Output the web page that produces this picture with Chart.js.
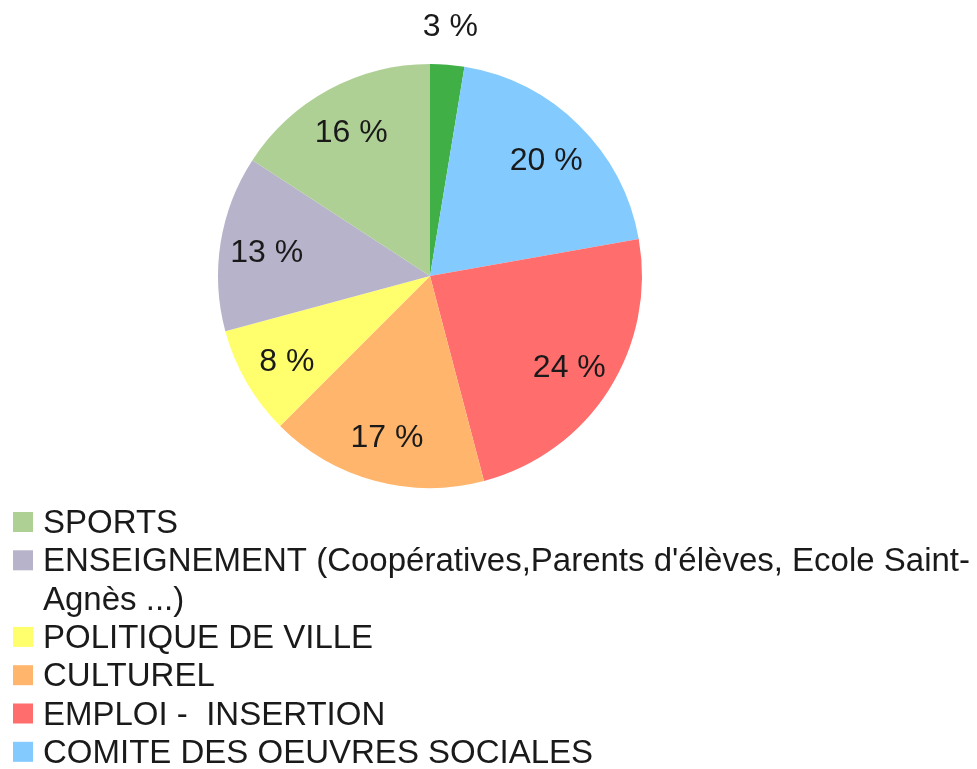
<!DOCTYPE html>
<html>
<head>
<meta charset="utf-8">
<script src="https://cdn.jsdelivr.net/npm/chart.js@4/dist/chart.umd.min.js"></script>
<style>
  html, body { margin: 0; padding: 0; background: #ffffff; overflow: hidden; }
  canvas { display: block; }
</style>
</head>
<body>
<canvas id="c" width="977" height="769"></canvas>
<script>
// Legend order (as listed in the reference legend)
const categories = [
  'SPORTS',
  'ENSEIGNEMENT (Coopératives,Parents d\'élèves, Ecole Saint-Agnès ...)',
  'POLITIQUE DE VILLE',
  'CULTUREL',
  'EMPLOI -  INSERTION',
  'COMITE DES OEUVRES SOCIALES',
  'AUTRES'
];
// Share of each category (percent)
const shares = [15.8, 13.4, 8.3, 16.6, 23.7, 19.6, 2.6];
const sliceColors = ['#afd095', '#b7b3ca', '#ffff6d', '#ffb66c', '#ff6d6d', '#83caff', '#3faf46'];

// Slices run counter-clockwise in legend order; Chart.js draws clockwise, so reverse.
const pieLabels = categories.slice().reverse();
const pieValues = shares.slice().reverse();
const pieColors = sliceColors.slice().reverse();

const LABEL_FONT = '32px "Liberation Sans", Arial, sans-serif';
const LEGEND_FONT = '33px "Liberation Sans", Arial, sans-serif';
const TEXT_COLOR = '#1a1a1a';

const valueLabels = {
  id: 'valueLabels',
  afterDatasetsDraw(chart) {
    const ctx = chart.ctx;
    const meta = chart.getDatasetMeta(0);
    const data = chart.data.datasets[0].data;
    const total = data.reduce((a, b) => a + b, 0);
    ctx.save();
    ctx.font = LABEL_FONT;
    ctx.fillStyle = TEXT_COLOR;
    ctx.textAlign = 'center';
    ctx.textBaseline = 'middle';
    meta.data.forEach((arc, i) => {
      const p = data[i] / total * 100;
      const mid = (arc.startAngle + arc.endAngle) / 2;
      const f = p < 5 ? 1.18 : 0.78;
      const r = arc.outerRadius * f;
      const x = arc.x + Math.cos(mid) * r;
      const y = arc.y + Math.sin(mid) * r;
      ctx.fillText(Math.round(p + 1e-9) + ' %', x, y + (p < 5 ? 0 : 3));
    });
    ctx.restore();
  }
};

const customLegend = {
  id: 'customLegend',
  afterDraw(chart) {
    const ctx = chart.ctx;
    ctx.save();
    ctx.font = LEGEND_FONT;
    ctx.textAlign = 'left';
    ctx.textBaseline = 'alphabetic';
    const textX = 43, boxX = 13, boxSize = 20, lineH = 38.3;
    const maxW = chart.width - textX - 4;
    let baseline = 533;
    const wrap = (text) => {
      const tokens = text.match(/[^\s-]+-?|\s+|-/g) || [];
      const lines = [];
      let cur = '';
      tokens.forEach(t => {
        const test = cur + t;
        if (cur.trim() && ctx.measureText(test.trimEnd()).width > maxW && !/^\s+$/.test(t)) {
          lines.push(cur.trimEnd());
          cur = t.trimStart();
        } else {
          cur = test;
        }
      });
      if (cur.trim()) lines.push(cur.trimEnd());
      return lines;
    };
    categories.forEach((cat, i) => {
      ctx.fillStyle = sliceColors[i];
      ctx.fillRect(boxX, baseline - 21, boxSize, boxSize);
      ctx.fillStyle = TEXT_COLOR;
      wrap(cat).forEach((line) => {
        ctx.fillText(line, textX, baseline);
        baseline += lineH;
      });
    });
    ctx.restore();
  }
};

new Chart(document.getElementById('c'), {
  type: 'pie',
  data: {
    labels: pieLabels,
    datasets: [{
      data: pieValues,
      backgroundColor: pieColors,
      borderWidth: 0,
      hoverOffset: 0,
      offset: 0
    }]
  },
  options: {
    responsive: false,
    animation: false,
    layout: { padding: { top: 64, bottom: 281, left: 218, right: 335 } },
    plugins: {
      legend: { display: false },
      tooltip: { enabled: false },
      title: { display: false }
    },
    events: []
  },
  plugins: [valueLabels, customLegend]
});
</script>
</body>
</html>
